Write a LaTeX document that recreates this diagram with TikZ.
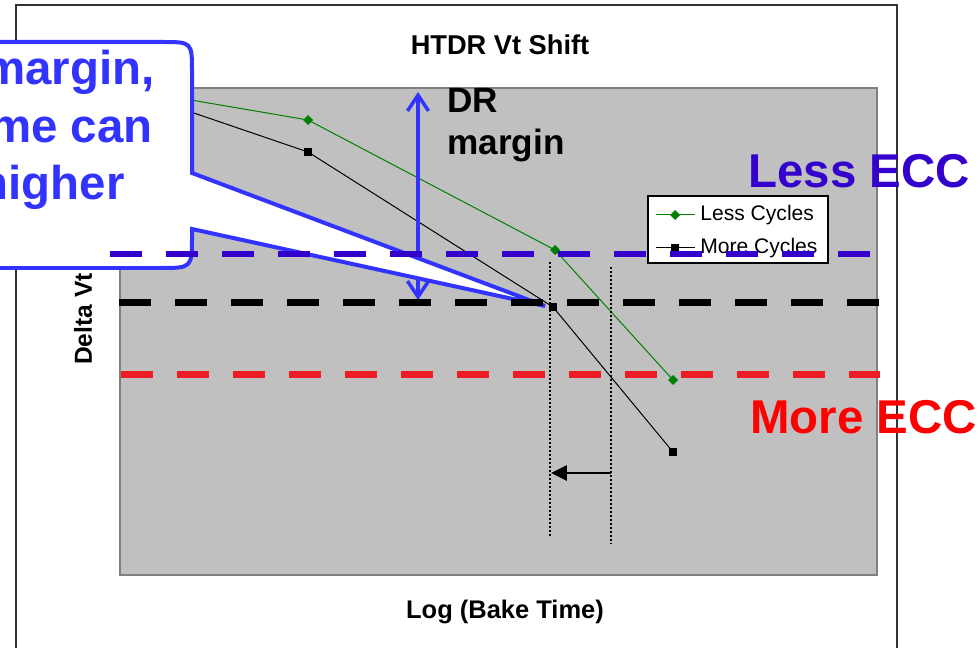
\documentclass[tikz,border=0pt]{standalone}
\usepackage{fontspec}
\setmainfont{Liberation Sans}
\usetikzlibrary{arrows.meta,calc}
\definecolor{plotgray}{HTML}{C0C0C0}
\definecolor{callblue}{HTML}{3333FF}
\definecolor{eccblue}{HTML}{3300CC}
\definecolor{eccred}{HTML}{EE1C25}
\definecolor{lessgreen}{HTML}{008000}
\newcommand{\chartfont}[1]{\fontsize{#1}{#1}\selectfont\bfseries}
\begin{document}
\begin{tikzpicture}[x=0.02cm,y=-0.02cm,
	lbl/.style={inner sep=0pt},
	eccline/.style={line width=0.14cm,dash pattern=on 0.64cm off 0.48cm},
	vdots/.style={line width=0.04cm,dash pattern=on 0.04cm off 0.04cm},
	]
	\useasboundingbox (0,0) rectangle (979,648);
	\clip (0,0) rectangle (979,648);
	% chart frame and plot area
	\draw[line width=0.03cm,draw=black!80] (16,5) rectangle (897,700);
	\draw[fill=plotgray,draw=gray,line width=0.03cm] (120,88) rectangle (877,575);
	\node[lbl] (title) at (500,45) {\chartfont{15.5}HTDR Vt Shift};
	\node[lbl] (xlabel) at (505,612) {\chartfont{14.5}Log (Bake Time)};
	\node[lbl,rotate=90] (ylabel) at (83,319) {\chartfont{14}Delta Vt};
	
	% data series
	\coordinate (l0) at (150,93); \coordinate (l1) at (308,120); \coordinate (l2) at (555,250); \coordinate (l3) at (673,380);
	\coordinate (m0) at (150,98); \coordinate (m1) at (308,152); \coordinate (m2) at (553,307); \coordinate (m3) at (673,452);
	\draw[lessgreen,line width=0.02cm] (l0) -- (l1) -- (l2) -- (l3);
	\draw[black,line width=0.02cm] (m0) -- (m1) -- (m2) -- (m3);
	\foreach \p in {l1,l2,l3}
		\fill[lessgreen] ($(\p)+(0,-5)$) -- ++(5,5) -- ++(-5,5) -- ++(-5,-5) -- cycle;
	\foreach \p in {m1,m2,m3}
		\fill[black] ($(\p)+(-4,-4)$) rectangle ($(\p)+(4,4)$);
	
	% shift of bake time
	\coordinate (s1) at (550,262); \coordinate (s1b) at (550,537);
	\coordinate (s2) at (611,267); \coordinate (s2b) at (611,543);
	\draw[vdots] (s1) -- (s1b);
	\draw[vdots] (s2) -- (s2b);
	\coordinate (a2) at (611,473); \coordinate (a1) at (551,473);
	\draw[line width=0.05cm,-{Triangle[length=9pt,width=8.5pt]}] (a2) -- (a1);
	
	% DR margin
	\coordinate (drhi) at (418,92); \coordinate (drlo) at (418,300);
	\draw[callblue,line width=0.07cm,{Straight Barb[length=9pt,width=12pt]}-{Straight Barb[length=9pt,width=12pt]}] (drhi) -- (drlo);
	\node[lbl,anchor=base west] (drtop) at (447,113) {\chartfont{20}DR};
	\node[lbl,anchor=base west] (drbot) at (447,155) {\chartfont{20}margin};
	
	% callout
	\coordinate (tip) at (545,306);
	\draw[callblue,fill=white,line width=0.08cm,line join=miter]
		(192,173) -- (192,72) .. controls (192,42) .. (162,42) -- (-30,42) -- (-30,268)
		-- (160,268) .. controls (192,268) .. (192,236) -- (192,229) -- (tip) -- cycle;
	\node[lbl,anchor=base east,text=callblue] (c1) at (155,85) {\chartfont{27}margin,};
	\node[lbl,anchor=base east,text=callblue] (c2) at (153,143) {\chartfont{27}me can};
	\node[lbl,anchor=base east,text=callblue] (c3) at (125,200) {\chartfont{27}higher};
	
	% legend
	\node[draw=black,fill=white,line width=0.8pt,minimum width=3.6cm,minimum height=1.34cm,inner sep=0pt] (legend) at (738,229.5) {};
	\draw[lessgreen,line width=0.02cm] (656,215) -- (695,215);
	\fill[lessgreen] (675,210) -- (680,215) -- (675,220) -- (670,215) -- cycle;
	\node[lbl,anchor=west] (lesstxt) at (700,215) {\fontsize{12}{12}\selectfont Less Cycles};
	\draw[black,line width=0.02cm] (656,248) -- (695,248);
	\fill[black] (671,244) rectangle (679,252);
	\node[lbl,anchor=west] (moretxt) at (700,248) {\fontsize{12}{12}\selectfont More Cycles};
	
	% ECC levels
	\draw[eccline,eccblue] (110,254) -- (870,254);
	\draw[eccline,black] (119,302) -- (880,302);
	\draw[eccline,eccred] (121,374) -- (880,374);
	\node[lbl,anchor=base west,text=eccblue] (lessecc) at (748,188) {\chartfont{27}Less ECC};
	\node[lbl,anchor=base west,text=red] (moreecc) at (750,433) {\chartfont{27}More ECC};
\end{tikzpicture}
\end{document}
